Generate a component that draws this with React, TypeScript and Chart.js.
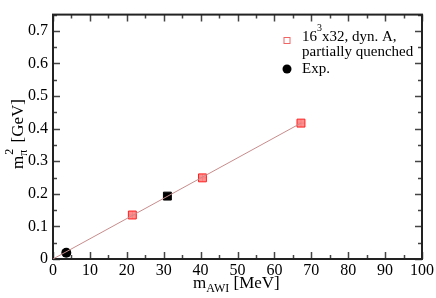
import React, { useEffect, useRef } from "react";
import { Chart, registerables } from "chart.js";

Chart.register(...registerables);

// ---- data ----
const latticeX = [21.5, 40.5, 67.2];
const latticeY = [0.135, 0.249, 0.417];
const physX = [31.0];
const physY = [0.193];
const expX = [3.6];
const expY = [0.019];
const fitX = [0, 67.2];
const fitY = [0, 0.417];

const xTicks = [0, 10, 20, 30, 40, 50, 60, 70, 80, 90, 100];
const yTicks = [0, 0.1, 0.2, 0.3, 0.4, 0.5, 0.6, 0.7];
const xMinor = [5, 15, 25, 35, 45, 55, 65, 75, 85, 95];
const yMinor = [0.05, 0.15, 0.25, 0.35, 0.45, 0.55, 0.65, 0.75];

const legendLine1 = "16";
const legendSup = "3";
const legendLine1b = "x32, dyn. A,";
const legendLine2 = "partially quenched";
const legendExp = "Exp.";

const SERIF = "'Liberation Serif', 'DejaVu Serif', serif";
const RED = "rgb(255,30,30)";
const FIT = "rgb(200,140,140)";

const zip = (xs: number[], ys: number[]) => xs.map((x, i) => ({ x, y: ys[i] }));

const framePlugin = {
  id: "frame",
  beforeDatasetsDraw(chart: any) {
    const { ctx, chartArea: a, scales } = chart;
    const xs = scales.x;
    const ys = scales.y;
    ctx.save();
    ctx.strokeStyle = "#444";
    ctx.lineWidth = 1.5;
    const major = 7;
    const minor = 4;
    ctx.beginPath();
    xTicks.forEach((v) => {
      const p = Math.round(xs.getPixelForValue(v)) + 0.5;
      ctx.moveTo(p, a.bottom);
      ctx.lineTo(p, a.bottom - major);
      ctx.moveTo(p, a.top);
      ctx.lineTo(p, a.top + major);
    });
    xMinor.forEach((v) => {
      const p = Math.round(xs.getPixelForValue(v)) + 0.5;
      ctx.moveTo(p, a.bottom);
      ctx.lineTo(p, a.bottom - minor);
      ctx.moveTo(p, a.top);
      ctx.lineTo(p, a.top + minor);
    });
    yTicks.forEach((v) => {
      const p = Math.round(ys.getPixelForValue(v)) + 0.5;
      ctx.moveTo(a.left, p);
      ctx.lineTo(a.left + major, p);
      ctx.moveTo(a.right, p);
      ctx.lineTo(a.right - major, p);
    });
    yMinor.forEach((v) => {
      const p = Math.round(ys.getPixelForValue(v)) + 0.5;
      ctx.moveTo(a.left, p);
      ctx.lineTo(a.left + minor, p);
      ctx.moveTo(a.right, p);
      ctx.lineTo(a.right - minor, p);
    });
    ctx.stroke();
    ctx.lineWidth = 2;
    ctx.strokeStyle = "#222";
    ctx.strokeRect(a.left, a.top, a.right - a.left, a.bottom - a.top);
    ctx.restore();
  },
  afterDraw(chart: any) {
    const { ctx } = chart;
    ctx.save();
    ctx.fillStyle = "#000";
    ctx.textBaseline = "alphabetic";
    ctx.textAlign = "left";
    // x title: m_AWI [MeV]
    let x = 193;
    const by = 288;
    ctx.font = `17px ${SERIF}`;
    ctx.fillText("m", x, by);
    x += ctx.measureText("m").width;
    ctx.font = `12px ${SERIF}`;
    ctx.fillText("AWI", x, by + 4);
    x += ctx.measureText("AWI").width;
    ctx.font = `17px ${SERIF}`;
    ctx.fillText(" [MeV]", x, by);

    // y title: m_pi^2 [GeV]
    ctx.save();
    ctx.translate(23, 169);
    ctx.rotate(-Math.PI / 2);
    let t = 0;
    ctx.font = `17px ${SERIF}`;
    ctx.fillText("m", t, 0);
    t += ctx.measureText("m").width;
    ctx.font = `12px ${SERIF}`;
    ctx.fillText("\u03c0", t, 4);
    ctx.fillText("2", t + 1, -10);
    t += ctx.measureText("\u03c0").width + 1;
    ctx.font = `17px ${SERIF}`;
    ctx.fillText(" [GeV]", t + 2, 0);
    ctx.restore();

    // legend
    ctx.font = `15px ${SERIF}`;
    ctx.strokeStyle = "rgb(240,100,100)";
    ctx.lineWidth = 1;
    ctx.strokeRect(284, 37.5, 6, 6);
    let lx = 302;
    ctx.fillText(legendLine1, lx, 41);
    lx += ctx.measureText(legendLine1).width;
    ctx.font = `10px ${SERIF}`;
    ctx.fillText(legendSup, lx, 31);
    lx += ctx.measureText(legendSup).width;
    ctx.font = `15px ${SERIF}`;
    ctx.fillText(legendLine1b, lx, 41);
    ctx.fillText(legendLine2, 302, 56);
    ctx.fillText(legendExp, 302, 73);
    ctx.beginPath();
    ctx.arc(287, 69, 4.5, 0, Math.PI * 2);
    ctx.fill();
    ctx.restore();
  },
};

export default function App() {
  const ref = useRef<HTMLCanvasElement | null>(null);
  useEffect(() => {
    if (!ref.current) return;
    const chart = new Chart(ref.current, {
      type: "scatter",
      data: {
        datasets: [
          {
            type: "line",
            data: zip(fitX, fitY),
            borderColor: FIT,
            borderWidth: 1,
            pointRadius: 0,
            fill: false,
          },
          {
            data: zip(latticeX, latticeY),
            pointStyle: "rect",
            pointRadius: 5.6,
            backgroundColor: "rgba(255,70,70,0.6)",
            borderColor: RED,
            borderWidth: 1,
          },
          {
            data: zip(latticeX, latticeY),
            pointStyle: "cross",
            pointRadius: 4,
            borderColor: "rgba(255,200,200,0.9)",
            borderWidth: 1,
          },
          {
            data: zip(physX, physY),
            pointStyle: "rect",
            pointRadius: 5.6,
            backgroundColor: "#000",
            borderColor: "#000",
            borderWidth: 1,
          },
          {
            data: zip(expX, expY),
            pointStyle: "circle",
            pointRadius: 5,
            backgroundColor: "#000",
            borderColor: "#000",
            borderWidth: 0,
          },
        ],
      },
      options: {
        animation: false,
        responsive: false,
        events: [],
        layout: { padding: { top: 2, right: 13, left: 0, bottom: 0 } },
        plugins: { legend: { display: false }, tooltip: { enabled: false } },
        scales: {
          x: {
            type: "linear",
            min: 0,
            max: 100,
            grid: { display: false, drawTicks: false },
            border: { display: false },
            afterBuildTicks: (s: any) => {
              s.ticks = xTicks.map((v) => ({ value: v }));
            },
            afterFit: (s: any) => {
              s.height = 39;
            },
            ticks: {
              autoSkip: false,
              maxRotation: 0,
              padding: 2,
              color: "#000",
              font: { family: SERIF, size: 16 },
              callback: (v: any) => String(v),
            },
          },
          y: {
            type: "linear",
            min: 0,
            max: 0.75,
            grid: { display: false, drawTicks: false },
            border: { display: false },
            afterBuildTicks: (s: any) => {
              s.ticks = yTicks.map((v) => ({ value: v }));
            },
            afterFit: (s: any) => {
              s.width = 53;
            },
            ticks: {
              autoSkip: false,
              padding: 5,
              color: "#000",
              font: { family: SERIF, size: 16 },
              callback: (v: any) => (v === 0 ? "0" : Number(v).toFixed(1)),
            },
          },
        },
      },
      plugins: [framePlugin],
    } as any);
    return () => chart.destroy();
  }, []);
  return (
    <div style={{ position: "fixed", left: 0, top: 0, width: 436, height: 298, background: "#fff" }}>
      <canvas ref={ref} width={436} height={298} />
    </div>
  );
}
